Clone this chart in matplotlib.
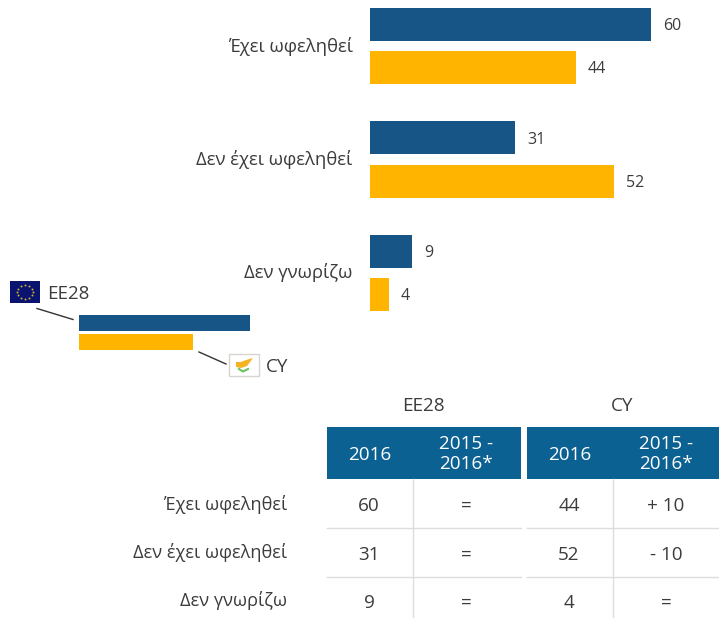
import matplotlib
matplotlib.use("Agg")
import matplotlib.pyplot as plt
from matplotlib.patches import Rectangle, Polygon

plt.rcParams['font.family'] = ['Open Sans', 'DejaVu Sans']

categories = ["Έχει ωφεληθεί", "Δεν έχει ωφεληθεί", "Δεν γνωρίζω"]
ee28_values = [60, 31, 9]
cy_values = [44, 52, 4]
ee28_change = ["=", "=", "="]
cy_change = ["+ 10", "- 10", "="]
year_label = "2016"
change_label = "2015 -\n2016*"

BLUE = "#175587"
YELLOW = "#ffb400"
HEADER = "#0b6192"
GRID = "#dddddd"
TEXT = "#3c3c3c"
W, H = 719, 618

fig = plt.figure(figsize=(W / 100, H / 100), dpi=100)

# overlay in pixel coordinates for legend and table
ov = fig.add_axes([0, 0, 1, 1])
ov.set_xlim(0, W)
ov.set_ylim(H, 0)
ov.axis("off")

# bar chart
ax = fig.add_axes([370 / W, 1 - 330 / H, 349 / W, 330 / H])
ax.patch.set_alpha(0)
ax.set_xlim(0, 349 / 4.69)
ax.set_ylim((330 - 46) / 113.5, -46 / 113.5)
ax.axis("off")
for i, (a, b) in enumerate(zip(ee28_values, cy_values)):
    ax.barh(i - 0.19, a, height=33 / 113.5, color=BLUE)
    ax.barh(i + 0.19, b, height=33 / 113.5, color=YELLOW)
    ax.text(a + 2.5, i - 0.175, str(a), va="center", ha="left", fontsize=11.5, color=TEXT)
    ax.text(b + 2.5, i + 0.205, str(b), va="center", ha="left", fontsize=11.5, color=TEXT)
    ax.text(-3.7, i + 0.0, categories[i], va="center", ha="right", fontsize=13.3, color=TEXT)

# legend
ov.add_patch(Rectangle((79, 315), 171, 16, color=BLUE, lw=0))
ov.add_patch(Rectangle((79, 334), 114, 16, color=YELLOW, lw=0))
ov.plot([37, 73], [308.5, 319.5], color="#333333", lw=1)
ov.plot([199, 226], [352, 364], color="#333333", lw=1)
ov.text(47, 294, "EE28", va="center", ha="left", fontsize=13.5, color=TEXT)
ov.text(266, 367, "CY", va="center", ha="left", fontsize=13.5, color=TEXT)

# EU flag
ov.add_patch(Rectangle((10, 281), 30, 22, color="#0a1470", lw=0))
ov.scatter([25, 29, 32, 33, 32, 29, 25, 21, 18, 17, 18, 21],
           [285, 286, 289, 292, 295, 298, 299, 298, 295, 292, 289, 286],
           s=2, color="#c9b030", lw=0)

# Cyprus flag
ov.add_patch(Rectangle((229, 354), 30, 22, fc="white", ec="#d8d4d0", lw=1))
ov.add_patch(Polygon([(236, 362), (241, 362), (246, 360), (253, 358), (250, 362),
                      (247, 366), (241, 368), (236, 367)], color="#f5b324", lw=0))
ov.plot([239, 243, 248], [369, 371.5, 369], color="#6cc35a", lw=1.5)

# table
for x0, x1, xdiv, name, vals, changes in [
    (327, 521, 413, "EE28", ee28_values, ee28_change),
    (527, 719, 613, "CY", cy_values, cy_change),
]:
    ov.text((x0 + x1) / 2 - 1, 406, name, ha="center", va="center", fontsize=13.6, color=TEXT)
    ov.add_patch(Rectangle((x0, 427), x1 - x0, 52, color=HEADER, lw=0))
    ov.text(x0 + 43, 455, year_label, ha="center", va="center", fontsize=13.6, color="white")
    ov.text(xdiv + 53, 454, change_label, ha="center", va="center", fontsize=13.6,
            color="white", linespacing=1.12)
    ov.plot([xdiv, xdiv], [479, H], color=GRID, lw=1.0)
    for y in [528, 577]:
        ov.plot([x0, x1], [y, y], color=GRID, lw=1.0)
    for y, v, c in zip([506, 555, 603], vals, changes):
        ov.text(x0 + 42, y, str(v), ha="center", va="center", fontsize=13.6, color=TEXT)
        ov.text(xdiv + 53, y, c, ha="center", va="center", fontsize=13.6, color=TEXT)

for y, c in zip([504, 553, 601], categories):
    ov.text(287, y, c, ha="right", va="center", fontsize=13.1, color=TEXT)

fig.savefig("out.png", dpi=100)
